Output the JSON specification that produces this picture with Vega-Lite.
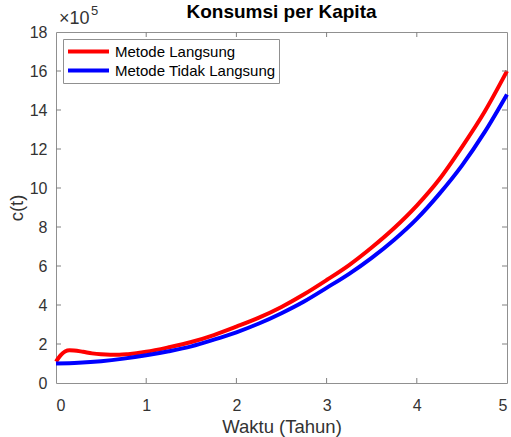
{
  "$schema": "https://vega.github.io/schema/vega-lite/v6.json",
  "width": 451,
  "height": 351,
  "autosize": "none",
  "padding": {"left": 56, "top": 32, "right": 4, "bottom": 54},
  "background": "white",
  "title": {"text": "Konsumsi per Kapita", "fontSize": 19, "font": "Liberation Sans", "fontWeight": "bold", "color": "#000000", "anchor": "middle", "offset": 0, "dy": 17},
  "config": {"view": {"stroke": "#909090", "strokeWidth": 1}, "font": "Liberation Sans"},
  "datasets": {
    "curves": [
      {"metode": "Metode Langsung", "t": 0, "c": 1.1},
      {"metode": "Metode Langsung", "t": 0.05, "c": 1.42},
      {"metode": "Metode Langsung", "t": 0.1, "c": 1.62},
      {"metode": "Metode Langsung", "t": 0.15, "c": 1.68},
      {"metode": "Metode Langsung", "t": 0.2, "c": 1.67},
      {"metode": "Metode Langsung", "t": 0.3, "c": 1.6},
      {"metode": "Metode Langsung", "t": 0.4, "c": 1.52},
      {"metode": "Metode Langsung", "t": 0.5, "c": 1.47},
      {"metode": "Metode Langsung", "t": 0.6, "c": 1.45},
      {"metode": "Metode Langsung", "t": 0.7, "c": 1.45},
      {"metode": "Metode Langsung", "t": 0.8, "c": 1.48},
      {"metode": "Metode Langsung", "t": 1.0, "c": 1.6},
      {"metode": "Metode Langsung", "t": 1.25, "c": 1.83},
      {"metode": "Metode Langsung", "t": 1.5, "c": 2.1},
      {"metode": "Metode Langsung", "t": 1.75, "c": 2.46},
      {"metode": "Metode Langsung", "t": 2.0, "c": 2.89},
      {"metode": "Metode Langsung", "t": 2.25, "c": 3.35},
      {"metode": "Metode Langsung", "t": 2.5, "c": 3.9},
      {"metode": "Metode Langsung", "t": 2.75, "c": 4.55},
      {"metode": "Metode Langsung", "t": 3.0, "c": 5.28},
      {"metode": "Metode Langsung", "t": 3.25, "c": 6.05},
      {"metode": "Metode Langsung", "t": 3.5, "c": 6.95},
      {"metode": "Metode Langsung", "t": 3.75, "c": 7.95},
      {"metode": "Metode Langsung", "t": 4.0, "c": 9.1},
      {"metode": "Metode Langsung", "t": 4.25, "c": 10.45},
      {"metode": "Metode Langsung", "t": 4.5, "c": 12.1},
      {"metode": "Metode Langsung", "t": 4.75, "c": 13.9},
      {"metode": "Metode Langsung", "t": 5.0, "c": 16.0},
      {"metode": "Metode Tidak Langsung", "t": 0, "c": 1.0},
      {"metode": "Metode Tidak Langsung", "t": 0.25, "c": 1.04},
      {"metode": "Metode Tidak Langsung", "t": 0.5, "c": 1.12},
      {"metode": "Metode Tidak Langsung", "t": 0.75, "c": 1.25},
      {"metode": "Metode Tidak Langsung", "t": 1.0, "c": 1.42},
      {"metode": "Metode Tidak Langsung", "t": 1.25, "c": 1.63},
      {"metode": "Metode Tidak Langsung", "t": 1.5, "c": 1.88},
      {"metode": "Metode Tidak Langsung", "t": 1.75, "c": 2.22},
      {"metode": "Metode Tidak Langsung", "t": 2.0, "c": 2.6},
      {"metode": "Metode Tidak Langsung", "t": 2.25, "c": 3.05},
      {"metode": "Metode Tidak Langsung", "t": 2.5, "c": 3.58},
      {"metode": "Metode Tidak Langsung", "t": 2.75, "c": 4.18},
      {"metode": "Metode Tidak Langsung", "t": 3.0, "c": 4.88},
      {"metode": "Metode Tidak Langsung", "t": 3.25, "c": 5.6},
      {"metode": "Metode Tidak Langsung", "t": 3.5, "c": 6.42},
      {"metode": "Metode Tidak Langsung", "t": 3.75, "c": 7.35},
      {"metode": "Metode Tidak Langsung", "t": 4.0, "c": 8.42},
      {"metode": "Metode Tidak Langsung", "t": 4.25, "c": 9.7},
      {"metode": "Metode Tidak Langsung", "t": 4.5, "c": 11.15},
      {"metode": "Metode Tidak Langsung", "t": 4.75, "c": 12.85},
      {"metode": "Metode Tidak Langsung", "t": 5.0, "c": 14.8}
    ],
    "xticks": [{"v": 1}, {"v": 2}, {"v": 3}, {"v": 4}],
    "yticks": [{"v": 2}, {"v": 4}, {"v": 6}, {"v": 8}, {"v": 10}, {"v": 12}, {"v": 14}, {"v": 16}],
    "exp": [{"t": 0, "c": 18, "a": "×10", "b": "5"}]
  },
  "layer": [
    {
      "data": {"name": "curves"},
      "mark": {"type": "line", "strokeWidth": 4, "interpolate": "monotone"},
      "encoding": {
        "x": {"field": "t", "type": "quantitative", "scale": {"domain": [0, 5], "nice": false},
          "axis": {"orient": "bottom", "values": [0, 1, 2, 3, 4, 5], "grid": false, "domain": false, "ticks": false, "labelPadding": 14, "labelFontSize": 16, "labelColor": "#333333", "labelFont": "Liberation Sans", "title": "Waktu (Tahun)", "titleFontSize": 18.5, "titleFontWeight": "normal", "titleColor": "#333333", "titleFont": "Liberation Sans", "titlePadding": 4}},
        "y": {"field": "c", "type": "quantitative", "scale": {"domain": [0, 18], "nice": false},
          "axis": {"orient": "left", "values": [0, 2, 4, 6, 8, 10, 12, 14, 16, 18], "grid": false, "domain": false, "ticks": false, "labelPadding": 9, "labelFontSize": 16, "labelColor": "#333333", "labelFont": "Liberation Sans", "title": "c(t)", "titleFontSize": 18.5, "titleFontWeight": "normal", "titleColor": "#333333", "titleFont": "Liberation Sans", "titlePadding": 3}},
        "color": {"field": "metode", "type": "nominal",
          "scale": {"domain": ["Metode Langsung", "Metode Tidak Langsung"], "range": ["#ff0000", "#0000ff"]},
          "legend": {"orient": "none", "legendX": 7, "legendY": 7, "title": null, "symbolType": "stroke", "symbolSize": 1681, "symbolStrokeWidth": 4, "clipHeight": 19, "labelFontSize": 15, "labelColor": "#000000", "labelFont": "Liberation Sans", "strokeColor": "#909090", "fillColor": "white", "padding": 3, "rowPadding": 0, "labelOffset": 4, "labelLimit": 300}}
      }
    },
    {
      "data": {"name": "xticks"},
      "mark": {"type": "tick", "orient": "vertical", "size": 5, "thickness": 1, "color": "#808080", "opacity": 1, "yOffset": -2.5},
      "encoding": {
        "x": {"field": "v", "type": "quantitative", "axis": null},
        "y": {"datum": 0, "type": "quantitative", "axis": null}
      }
    },
    {
      "data": {"name": "xticks"},
      "mark": {"type": "tick", "orient": "vertical", "size": 5, "thickness": 1, "color": "#808080", "opacity": 1, "yOffset": 2.5},
      "encoding": {
        "x": {"field": "v", "type": "quantitative", "axis": null},
        "y": {"datum": 18, "type": "quantitative", "axis": null}
      }
    },
    {
      "data": {"name": "yticks"},
      "mark": {"type": "tick", "orient": "horizontal", "size": 5, "thickness": 1, "color": "#808080", "opacity": 1, "xOffset": 2.5},
      "encoding": {
        "y": {"field": "v", "type": "quantitative", "axis": null},
        "x": {"datum": 0, "type": "quantitative", "axis": null}
      }
    },
    {
      "data": {"name": "yticks"},
      "mark": {"type": "tick", "orient": "horizontal", "size": 5, "thickness": 1, "color": "#808080", "opacity": 1, "xOffset": -2.5},
      "encoding": {
        "y": {"field": "v", "type": "quantitative", "axis": null},
        "x": {"datum": 5, "type": "quantitative", "axis": null}
      }
    },
    {
      "data": {"name": "exp"},
      "mark": {"type": "text", "align": "left", "baseline": "alphabetic", "fontSize": 18, "dx": 3, "dy": -8, "color": "#333333", "font": "Liberation Sans"},
      "encoding": {
        "x": {"field": "t", "type": "quantitative", "axis": null},
        "y": {"field": "c", "type": "quantitative", "axis": null},
        "text": {"field": "a"}
      }
    },
    {
      "data": {"name": "exp"},
      "mark": {"type": "text", "align": "left", "baseline": "alphabetic", "fontSize": 13, "dx": 35, "dy": -17, "color": "#333333", "font": "Liberation Sans"},
      "encoding": {
        "x": {"field": "t", "type": "quantitative", "axis": null},
        "y": {"field": "c", "type": "quantitative", "axis": null},
        "text": {"field": "b"}
      }
    }
  ],
  "resolve": {"axis": {"x": "independent", "y": "independent"}}
}
